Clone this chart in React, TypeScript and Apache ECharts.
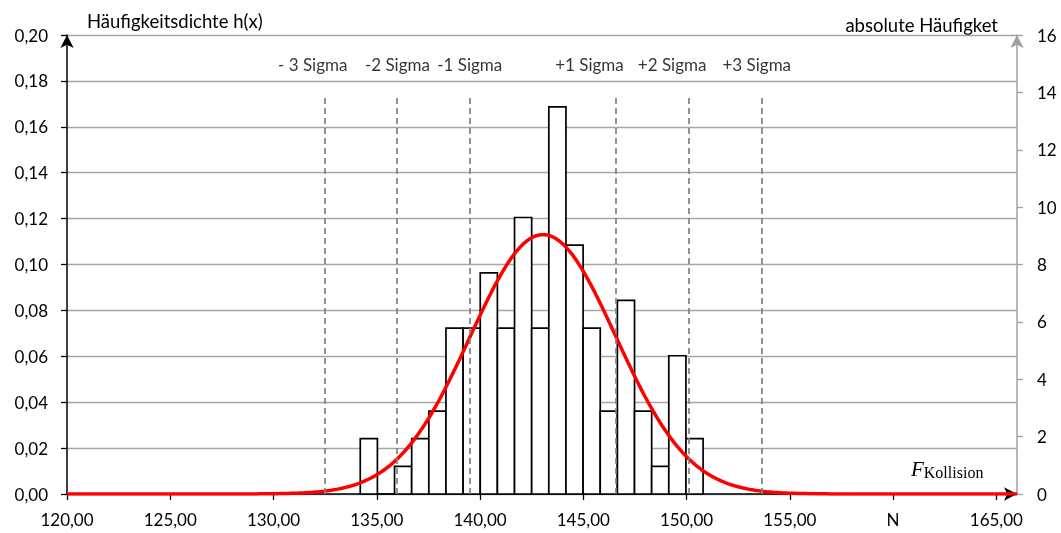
import React, { useEffect, useRef } from 'react';
import * as echarts from 'echarts';

// ---- data ----
const binStart = 134.2;
const binWidth = 0.83;
const binCounts = [2, 0, 1, 2, 3, 6, 6, 8, 6, 10, 6, 14, 9, 6, 3, 7, 3, 1, 5, 2];
const fitMean = 143.05;
const fitSigma = 3.53;
const sigmaLevels = [-3, -2, -1, 1, 2, 3];
const sigmaLabels = ['- 3 Sigma', '-2 Sigma', '-1 Sigma', '+1 Sigma', '+2 Sigma', '+3 Sigma'];
const sigmaLabelX = [131.9, 136.0, 139.5, 145.3, 149.3, 153.4];
const sigmaLineTop = 0.174;
const sigmaLabelY = 0.187;
const xTicks = [120, 125, 130, 135, 140, 145, 150, 155, 160, 165];
const xTickLabels = ['120,00', '125,00', '130,00', '135,00', '140,00', '145,00', '150,00', '155,00', 'N', '165,00'];
const xMin = 120;
const xMax = 166;
const yLeftMax = 0.2;
const yLeftStep = 0.02;
const yRightMax = 16;
const yRightStep = 2;

const FONT = 'Lato, "Open Sans", sans-serif';
const SERIF = '"Liberation Serif", "DejaVu Serif", serif';

export default function App() {
  const ref = useRef<HTMLDivElement>(null);
  useEffect(() => {
    if (!ref.current) return;
    const chart = echarts.init(ref.current, undefined, { renderer: 'svg' });
    const total = binCounts.reduce((a, b) => a + b, 0);
    const barData = binCounts.map((c, i) => [
      binStart + i * binWidth,
      binStart + (i + 1) * binWidth,
      c / (total * binWidth),
    ]);
    const curve: number[][] = [];
    for (let k = 0; k <= 460; k++) {
      const x = xMin + k * 0.1;
      const z = (x - fitMean) / fitSigma;
      curve.push([x, Math.exp(-0.5 * z * z) / (fitSigma * Math.sqrt(2 * Math.PI))]);
    }
    const sigmaLines = sigmaLevels.map((s) => {
      const x = fitMean + s * fitSigma;
      return [{ coord: [x, 0] }, { coord: [x, sigmaLineTop] }];
    });
    const labelData = sigmaLabels.map((t, i) => ({ value: [sigmaLabelX[i], sigmaLabelY], name: t }));

    chart.setOption({
      animation: false,
      grid: { left: 67, right: 44, top: 35, bottom: 39 },
      xAxis: {
        type: 'value',
        min: xMin,
        max: xMax,
        interval: 5,
        axisLine: { show: true, onZero: false, symbol: ['none', 'arrow'], symbolSize: [10, 13], lineStyle: { color: '#000', width: 1.5 } },
        axisTick: { show: true, length: 6, customValues: xTicks, lineStyle: { color: '#000', width: 1.3 } },
        axisLabel: {
          customValues: xTicks,
          margin: 17,
          color: '#000',
          fontFamily: FONT,
          fontSize: 17,
          formatter: (v: number) => {
            const i = xTicks.indexOf(v);
            return i >= 0 ? xTickLabels[i] : '';
          },
        },
        splitLine: { show: false },
      },
      yAxis: [
        {
          type: 'value',
          min: 0,
          max: yLeftMax,
          interval: yLeftStep,
          axisLine: { show: true, symbol: ['none', 'arrow'], symbolSize: [10, 13], lineStyle: { color: '#000', width: 1.5 } },
          axisTick: { show: true, length: 6, lineStyle: { color: '#000', width: 1.3 } },
          axisLabel: {
            margin: 19,
            color: '#000',
            fontFamily: FONT,
            fontSize: 17,
            formatter: (v: number) => v.toFixed(2).replace('.', ','),
          },
          splitLine: { show: true, lineStyle: { color: '#a6a6a6', width: 1.3 } },
        },
        {
          type: 'value',
          position: 'right',
          min: 0,
          max: yRightMax,
          interval: yRightStep,
          axisLine: { show: true, symbol: ['none', 'arrow'], symbolSize: [10, 13], lineStyle: { color: '#a0a0a0', width: 1.5 } },
          axisTick: { show: true, length: 6, lineStyle: { color: '#a0a0a0', width: 1.3 } },
          axisLabel: { margin: 20, color: '#000', fontFamily: FONT, fontSize: 17 },
          splitLine: { show: false },
        },
      ],
      series: [
        {
          type: 'custom',
          xAxisIndex: 0,
          yAxisIndex: 0,
          z: 2,
          encode: { x: [0, 1], y: 2 },
          data: barData,
          renderItem: (params: any, api: any) => {
            const p0 = api.coord([api.value(0), api.value(2)]);
            const p1 = api.coord([api.value(1), 0]);
            return {
              type: 'rect',
              shape: { x: p0[0], y: p0[1], width: p1[0] - p0[0], height: p1[1] - p0[1] },
              style: { fill: '#fff', stroke: '#000', lineWidth: 1.7 },
            };
          },
        },
        {
          type: 'scatter',
          xAxisIndex: 0,
          yAxisIndex: 0,
          z: 3,
          symbolSize: 0,
          data: labelData,
          label: {
            show: true,
            position: 'inside',
            formatter: (p: any) => p.name,
            color: '#000',
            fontFamily: FONT,
            fontSize: 17,
          },
          markLine: {
            silent: true,
            symbol: 'none',
            label: { show: false },
            lineStyle: { color: '#808080', type: [6, 4], width: 1.7 },
            data: sigmaLines,
          },
        },
        {
          type: 'line',
          xAxisIndex: 0,
          yAxisIndex: 0,
          z: 4,
          showSymbol: false,
          smooth: false,
          data: curve,
          lineStyle: { color: '#ff0000', width: 3.5 },
        },
      ],
      graphic: [
        {
          type: 'text',
          left: 87,
          top: 11,
          style: { text: 'Häufigkeitsdichte h(x)', fontFamily: FONT, fontSize: 18.5, fill: '#000' },
        },
        {
          type: 'text',
          right: 63,
          top: 15,
          style: { text: 'absolute Häufigket', fontFamily: FONT, fontSize: 18.5, fill: '#000' },
        },
        {
          type: 'text',
          left: 911,
          top: 458,
          style: {
            text: '{f|F}{s|Kollision}',
            rich: {
              f: { fontFamily: SERIF, fontStyle: 'italic', fontSize: 21, fill: '#000' },
              s: { fontFamily: SERIF, fontSize: 16, fill: '#000', padding: [7, 0, 0, 0] },
            },
          },
        },
      ],
    });
    return () => chart.dispose();
  }, []);
  return <div ref={ref} style={{ position: 'fixed', left: 0, top: 0, width: 1061, height: 533 }} />;
}
